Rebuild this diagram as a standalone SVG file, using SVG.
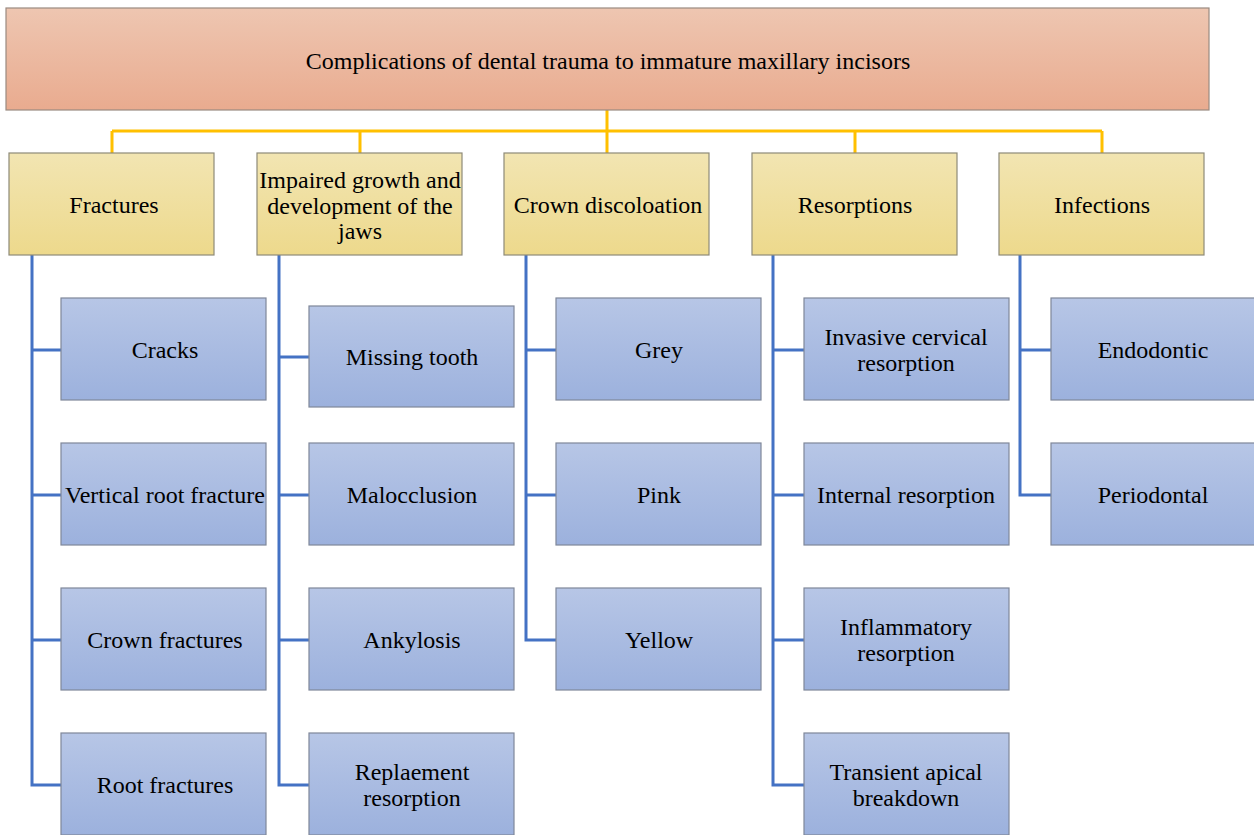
<svg xmlns="http://www.w3.org/2000/svg" width="1254" height="835" viewBox="0 0 1254 835">
<defs>
<linearGradient id="gTop" x1="0" y1="0" x2="0" y2="1"><stop offset="0" stop-color="#EEC6B1"/><stop offset="1" stop-color="#E9AB8F"/></linearGradient>
<linearGradient id="gCat" x1="0" y1="0" x2="0" y2="1"><stop offset="0" stop-color="#F2E5B2"/><stop offset="1" stop-color="#EDD98C"/></linearGradient>
<linearGradient id="gLeaf" x1="0" y1="0" x2="0" y2="1"><stop offset="0" stop-color="#B7C6E6"/><stop offset="1" stop-color="#9CB1DD"/></linearGradient>
</defs>
<style>
.top{fill:url(#gTop);stroke:#9A8A80;stroke-width:1.2}
.cat{fill:url(#gCat);stroke:#8E8A78;stroke-width:1.2}
.leaf{fill:url(#gLeaf);stroke:#7F8799;stroke-width:1.2}
text{font-family:"Liberation Serif","Times New Roman",serif;font-size:24px;fill:#000;text-anchor:middle;dominant-baseline:central}
.y{fill:none;stroke:#FFC000;stroke-width:3}
.b{fill:none;stroke:#4472C4;stroke-width:3}
</style>
<rect width="1254" height="835" fill="#fff"/>
<g id="connectors">
<path class="y" d="M607,110V131M112,131H1102M112,131V153M360,131V153M607,131V153M855,131V153M1102,131V153"/>
<path class="b" d="M32,255V785H61M32,350H61M32,495H61M32,640H61"/>
<path class="b" d="M279,255V785H309M279,357H309M279,495H309M279,640H309"/>
<path class="b" d="M526,255V640H556M526,350H556M526,495H556"/>
<path class="b" d="M773,255V785H804M773,350H804M773,495H804M773,640H804"/>
<path class="b" d="M1020,255V495H1051M1020,350H1051"/>
</g>
<g id="root"><rect class="top" x="6" y="8" width="1203" height="102"/><text x="608" y="61">Complications of dental trauma to immature maxillary incisors</text></g>
<g id="fractures"><rect class="cat" x="9" y="153" width="205" height="102"/><text x="114" y="205">Fractures</text></g>
<g id="impaired"><rect class="cat" x="257" y="153" width="205" height="102"/><text x="360" y="180">Impaired growth and</text><text x="360" y="206">development of the</text><text x="360" y="231">jaws</text></g>
<g id="crown"><rect class="cat" x="504" y="153" width="205" height="102"/><text x="608" y="205">Crown discoloation</text></g>
<g id="resorptions"><rect class="cat" x="752" y="153" width="205" height="102"/><text x="855" y="205">Resorptions</text></g>
<g id="infections"><rect class="cat" x="999" y="153" width="205" height="102"/><text x="1102" y="205">Infections</text></g>

<g id="cracks"><rect class="leaf" x="61" y="298" width="205" height="102"/><text x="165" y="350">Cracks</text></g>
<g id="vrf"><rect class="leaf" x="61" y="443" width="205" height="102"/><text x="165" y="495">Vertical root fracture</text></g>
<g id="cf"><rect class="leaf" x="61" y="588" width="205" height="102"/><text x="165" y="640">Crown fractures</text></g>
<g id="rf"><rect class="leaf" x="61" y="733" width="205" height="102"/><text x="165" y="785">Root fractures</text></g>

<g id="missing"><rect class="leaf" x="309" y="306" width="205" height="101"/><text x="412" y="357">Missing tooth</text></g>
<g id="malocclusion"><rect class="leaf" x="309" y="443" width="205" height="102"/><text x="412" y="495">Malocclusion</text></g>
<g id="ankylosis"><rect class="leaf" x="309" y="588" width="205" height="102"/><text x="412" y="640">Ankylosis</text></g>
<g id="replacement"><rect class="leaf" x="309" y="733" width="205" height="102"/><text x="412" y="772">Replaement</text><text x="412" y="798">resorption</text></g>

<g id="grey"><rect class="leaf" x="556" y="298" width="205" height="102"/><text x="659" y="350">Grey</text></g>
<g id="pink"><rect class="leaf" x="556" y="443" width="205" height="102"/><text x="659" y="495">Pink</text></g>
<g id="yellow"><rect class="leaf" x="556" y="588" width="205" height="102"/><text x="659" y="640">Yellow</text></g>

<g id="icr"><rect class="leaf" x="804" y="298" width="205" height="102"/><text x="906" y="337">Invasive cervical</text><text x="906" y="363">resorption</text></g>
<g id="ir"><rect class="leaf" x="804" y="443" width="205" height="102"/><text x="906" y="495">Internal resorption</text></g>
<g id="infl"><rect class="leaf" x="804" y="588" width="205" height="102"/><text x="906" y="627">Inflammatory</text><text x="906" y="653">resorption</text></g>
<g id="tab"><rect class="leaf" x="804" y="733" width="205" height="102"/><text x="906" y="772">Transient apical</text><text x="906" y="798">breakdown</text></g>

<g id="endo"><rect class="leaf" x="1051" y="298" width="205" height="102"/><text x="1153" y="350">Endodontic</text></g>
<g id="perio"><rect class="leaf" x="1051" y="443" width="205" height="102"/><text x="1153" y="495">Periodontal</text></g>
</svg>
